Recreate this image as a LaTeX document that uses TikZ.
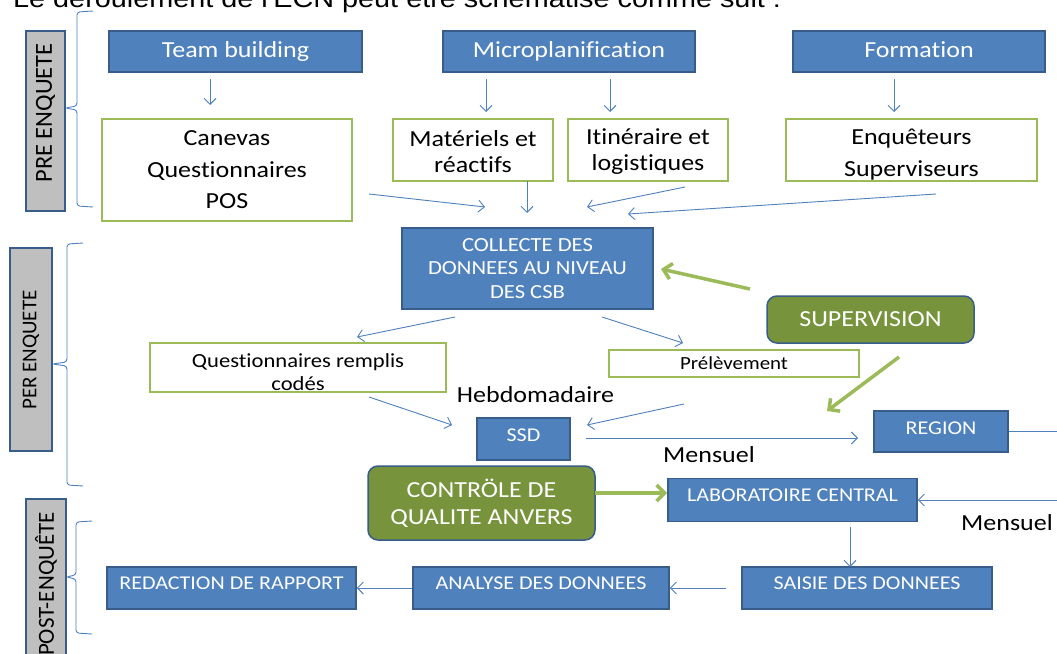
\documentclass[tikz,border=0pt]{standalone}
\usepackage{fontspec}
\setmainfont{Carlito}[FakeStretch=1.13, Ligatures={NoCommon}]
\newfontfamily\vfont{Carlito}
\newfontfamily\titlefont{Liberation Sans}[FakeStretch=1.13]
\usetikzlibrary{arrows.meta}
\definecolor{bfill}{HTML}{4F81BD}
\definecolor{bdraw}{HTML}{385D8A}
\definecolor{gline}{HTML}{9BBB59}
\definecolor{gfill}{HTML}{77933C}
\definecolor{grayfill}{HTML}{BFBFBF}
\begin{document}
\begin{tikzpicture}[x=1pt,y=-1pt,
  bluebox/.style={draw=bdraw, fill=bfill, line width=1.5pt, text=white, inner sep=0pt, align=center},
  greenbox/.style={draw=gline, fill=white, line width=1.5pt, inner sep=0pt, align=center},
  supbox/.style={draw=bdraw, fill=gfill, line width=1.5pt, rounded corners=10pt, text=white, inner sep=0pt, align=center},
  graybox/.style={draw=bdraw, fill=grayfill, line width=1.5pt, inner sep=0pt},
  flow/.style={draw=bfill, line width=0.9pt, -{Straight Barb[length=6pt,width=12pt]}},
  thickflow/.style={draw=gline, line width=3.5pt, -{Straight Barb[length=8pt,width=16pt]}},
  bracestyle/.style={draw=bfill, line width=0.9pt, rounded corners=3pt},
  fbig/.style={font=\fontsize{23}{31.5}\selectfont},
  fmid/.style={font=\fontsize{20}{23.5}\selectfont},
  fsmall/.style={font=\fontsize{19.5}{23}\selectfont},
  oneline/.style={text height=17pt, text depth=6pt},
  capline/.style={text height=9pt, text depth=7pt},
  plain/.style={inner sep=0pt}
]
\useasboundingbox (0,0) rectangle (1057,653);
\fill[white] (0,0) rectangle (1057,653);

% title (clipped at the top)
\node[plain, anchor=base west] (title) at (13,7) {\titlefont\fontsize{25.5}{30}\selectfont Le déroulement de l'ECN peut être schématisé comme suit :};

% section labels
\node[graybox, minimum width=39, minimum height=180] (g1) at (45.5,121) {};
\node[plain, rotate=90] (g1t) at (45.5,113) {\vfont\fontsize{24.5}{28}\selectfont PRE ENQUETE};
\node[graybox, minimum width=42, minimum height=203] (g2) at (31,349.5) {};
\node[plain, rotate=90] (g2t) at (31,350) {\vfont\fontsize{21}{25}\selectfont PER ENQUETE};
\node[graybox, minimum width=40, minimum height=182] (g3) at (46,590) {};
\node[plain, rotate=90] (g3t) at (46,584) {\vfont\fontsize{23}{27}\selectfont POST-ENQUÊTE};

% braces
\draw[bracestyle] (93,11) -- (77,12) -- (77,106) -- (65,108) -- (77,110) -- (77,206) -- (93,207);
\draw[bracestyle] (83,243) -- (67,244) -- (67,362) -- (52,364) -- (67,366) -- (67,485) -- (83,486);
\draw[bracestyle] (92,521) -- (76,522) -- (76,575) -- (66,577) -- (76,579) -- (76,633) -- (92,634);

% top row
\node[bluebox, fbig, oneline, minimum width=253, minimum height=41] (team) at (235.5,51.5) {Team building};
\node[bluebox, fbig, oneline, minimum width=252, minimum height=41] (micro) at (569,51.5) {Microplanification};
\node[bluebox, fbig, oneline, minimum width=252, minimum height=41] (form) at (919,51.5) {Formation};

% second row
\node[greenbox, fbig, minimum width=250, minimum height=102] (canevas) at (227,170) {Canevas\\Questionnaires\\POS};
\node[greenbox, minimum width=160, minimum height=62] (mat) at (473,150) {};
\node[plain, align=center, font=\fontsize{23}{26}\selectfont] (matt) at (473,152) {Matériels et\\réactifs};
\node[greenbox, minimum width=160, minimum height=62] (itin) at (648,150) {};
\node[plain, align=center, font=\fontsize{23}{26}\selectfont] (itint) at (648,152) {Itinéraire et\\logistiques};
\node[greenbox, minimum width=251, minimum height=62] (enq) at (911.5,150) {};
\node[plain, align=center, fbig] (enqt) at (911.5,154.5) {Enquêteurs\\Superviseurs};

% middle
\node[bluebox, fmid, minimum width=251, minimum height=81] (collecte) at (527.5,268.5) {COLLECTE DES\\DONNEES AU NIVEAU\\DES CSB};
\node[supbox, fbig, minimum width=207, minimum height=47] (superv) at (870.5,319.5) {SUPERVISION};
\node[greenbox, minimum width=296, minimum height=49] (quest) at (298,367.5) {};
\node[plain, fmid, align=center] (questt) at (298,372) {Questionnaires remplis\\codés};
\node[greenbox, font=\fontsize{18.5}{22}\selectfont, minimum width=250, minimum height=27] (prel) at (734,363.5) {Prélèvement};
\node[plain, fbig] (hebdo) at (535.5,395) {Hebdomadaire};
\node[bluebox, fsmall, text height=9pt, text depth=5pt, minimum width=93, minimum height=42] (ssd) at (523.5,439) {SSD};
\node[bluebox, fsmall, text height=9pt, text depth=4pt, minimum width=134, minimum height=41] (region) at (941,431.5) {REGION};
\node[plain, fbig] (mens1) at (709,455) {Mensuel};
\node[supbox, font=\fontsize{23}{27}\selectfont, minimum width=227, minimum height=74] (controle) at (481.5,503) {CONTRÖLE DE\\QUALITE ANVERS};
\node[bluebox, fsmall, capline, minimum width=249, minimum height=43] (labo) at (792.5,500) {LABORATOIRE CENTRAL};
\node[plain, fbig, anchor=west] (mens2) at (961,523) {Mensuel};

% bottom row
\node[bluebox, fsmall, capline, minimum width=250, minimum height=42] (saisie) at (867,588) {SAISIE DES DONNEES};
\node[bluebox, fsmall, capline, minimum width=256, minimum height=42] (analyse) at (541,588) {ANALYSE DES DONNEES};
\node[bluebox, fsmall, capline, minimum width=249, minimum height=42] (redac) at (231.5,588) {REDACTION DE RAPPORT};

% free connector ends
\coordinate (a1s) at (210,79);  \coordinate (a1e) at (210,105);
\coordinate (a2s) at (486,79);  \coordinate (a2e) at (486,112);
\coordinate (a3s) at (610,79);  \coordinate (a3e) at (610,112);
\coordinate (a4s) at (894,79);  \coordinate (a4e) at (894,112);
\coordinate (b1s) at (369,194); \coordinate (b1e) at (485,207);
\coordinate (b2s) at (527,181); \coordinate (b2e) at (527,213);
\coordinate (b3s) at (685,187); \coordinate (b3e) at (587,207);
\coordinate (b4s) at (936,194); \coordinate (b4e) at (628,214);
\coordinate (s1s) at (750,289); \coordinate (s1e) at (661,269);
\coordinate (c1s) at (455,317); \coordinate (c1e) at (357,337);
\coordinate (c2s) at (602,317); \coordinate (c2e) at (683,343);
\coordinate (d1s) at (369,397); \coordinate (d1e) at (452,425);
\coordinate (d2s) at (684,404); \coordinate (d2e) at (587,425);
\coordinate (s2s) at (899,357); \coordinate (s2e) at (827,411);
\coordinate (e1s) at (586,438); \coordinate (e1e) at (858,438);
\coordinate (rout) at (1075,431.5);
\coordinate (lin) at (1075,500);
\coordinate (q1s) at (595,493); \coordinate (q1e) at (667,493);
\coordinate (f1s) at (850,527); \coordinate (f1e) at (850,567);
\coordinate (h1s) at (726,588);

% connectors
\draw[flow] (a1s) -- (a1e);
\draw[flow] (a2s) -- (a2e);
\draw[flow] (a3s) -- (a3e);
\draw[flow] (a4s) -- (a4e);
\draw[flow] (b1s) -- (b1e);
\draw[flow] (b2s) -- (b2e);
\draw[flow] (b3s) -- (b3e);
\draw[flow] (b4s) -- (b4e);
\draw[thickflow] (s1s) -- (s1e);
\draw[flow] (c1s) -- (c1e);
\draw[flow] (c2s) -- (c2e);
\draw[flow] (d1s) -- (d1e);
\draw[flow] (d2s) -- (d2e);
\draw[thickflow] (s2s) -- (s2e);
\draw[flow] (e1s) -- (e1e);
\draw[draw=bfill, line width=0.9pt] (region.east) -- (rout);
\draw[flow] (lin) -- (labo.east);
\draw[thickflow] (q1s) -- (q1e);
\draw[flow] (f1s) -- (f1e);
\draw[flow] (h1s) -- (analyse.east);
\draw[flow] (analyse.west) -- (redac.east);
\end{tikzpicture}
\end{document}
